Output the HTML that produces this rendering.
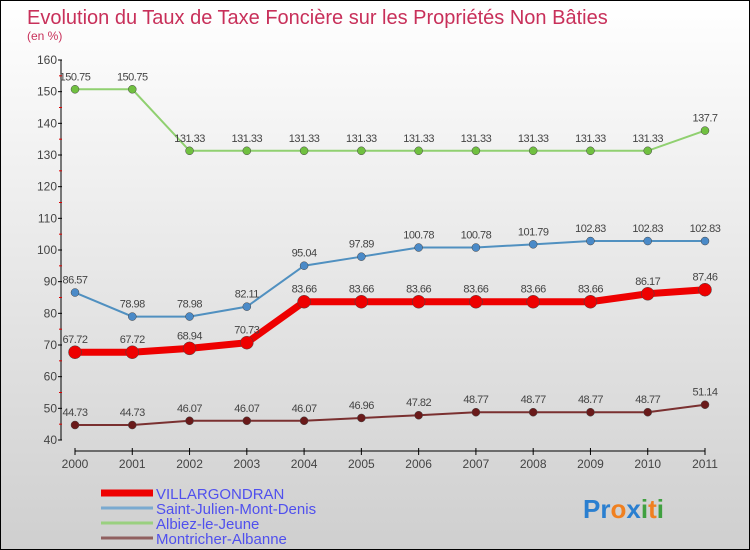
<!DOCTYPE html>
<html><head><meta charset="utf-8"><style>
html,body{margin:0;padding:0}
body{width:750px;height:550px;overflow:hidden;font-family:"Liberation Sans",sans-serif}
#wrap{position:relative;width:748px;height:548px;border:1px solid #000;background:linear-gradient(#ffffff,#cfcfcf)}
</style></head><body>
<div id="wrap">
<svg id="chart" width="748" height="548" style="position:absolute;left:0;top:0">
<text x="26" y="23" font-size="20" fill="#c8305a">Evolution du Taux de Taxe Foncière sur les Propriétés Non Bâties</text>
<text x="26" y="39" font-size="12" fill="#c8305a">(en %)</text>
<g id="axes"></g><g id="series"></g><g id="legend"></g>
<text x="582" y="517" font-size="26" font-weight="bold"><tspan fill="#2a7fd0">Pr</tspan><tspan fill="#f08020">o</tspan><tspan fill="#2a7fd0">x</tspan><tspan fill="#40a040">i</tspan><tspan fill="#f08020">t</tspan><tspan fill="#40a040">i</tspan></text>
</svg>
</div>
<script>
const years=["2000","2001","2002","2003","2004","2005","2006","2007","2008","2009","2010","2011"];
const yTicks=[40,50,60,70,80,90,100,110,120,130,140,150,160];
const villargondran=[67.72,67.72,68.94,70.73,83.66,83.66,83.66,83.66,83.66,83.66,86.17,87.46];
const saintJulien=[86.57,78.98,78.98,82.11,95.04,97.89,100.78,100.78,101.79,102.83,102.83,102.83];
const albiez=[150.75,150.75,131.33,131.33,131.33,131.33,131.33,131.33,131.33,131.33,131.33,137.7];
const montricher=[44.73,44.73,46.07,46.07,46.07,46.96,47.82,48.77,48.77,48.77,48.77,51.14];
const seriesNames=["VILLARGONDRAN","Saint-Julien-Mont-Denis","Albiez-le-Jeune","Montricher-Albanne"];
const NS="http://www.w3.org/2000/svg";
const X=i=>74+i*(630/11);
const Y=v=>439-(v-40)*(380/120);
function mk(tag,attrs,parent){const e=document.createElementNS(NS,tag);for(const k in attrs)e.setAttribute(k,attrs[k]);parent.appendChild(e);return e;}
const axes=document.getElementById('axes');
let a=mk('line',{x1:60,y1:Y(160),x2:60,y2:Y(40),stroke:'#000'},axes);


yTicks.forEach(t=>{
 const l=mk('line',{x1:57,y1:Y(t),x2:61,y2:Y(t),stroke:'#000'},axes);
 
 
 const m=mk('line',{x1:58,y1:Y(t+5),x2:61,y2:Y(t+5),stroke:'#d00'},axes);
 if(t===160)m.remove();
 const tx=mk('text',{x:56,y:Y(t)+4,'text-anchor':'end','font-size':12,fill:'#444'},axes);
 tx.textContent=t;
 
 
});
a=mk('line',{x1:X(0),y1:450,x2:X(11),y2:450,stroke:'#000'},axes);


years.forEach((yr,i)=>{
 const l=mk('line',{x1:X(i),y1:447,x2:X(i),y2:454,stroke:'#000'},axes);
 
 
 const tx=mk('text',{x:X(i),y:467,'text-anchor':'middle','font-size':12,fill:'#444'},axes);
 tx.textContent=yr;
 
 
});
const ser=document.getElementById('series');
const defs=[
 {d:montricher,c:'#7a3030',dot:'#6a1a1a',w:2,r:4,n:'montricher-albanne'},
 {d:albiez,c:'#90d070',dot:'#70c040',w:2,r:4,n:'albiez-le-jeune'},
 {d:saintJulien,c:'#5090c0',dot:'#4a8ac8',w:2,r:4,n:'saint-julien-mont-denis'},
 {d:villargondran,c:'#ee0000',dot:'#ee0000',w:7,r:6.5,n:'villargondran'}
];
defs.forEach(s=>{
 const p=mk('polyline',{points:s.d.map((v,i)=>X(i)+','+Y(v)).join(' '),fill:'none',stroke:s.c,'stroke-width':s.w},ser);
 
 
 s.d.forEach((v,i)=>{
  const c=mk('circle',{cx:X(i),cy:Y(v),r:s.r,fill:s.dot,stroke:'#444','stroke-width':0.5},ser);
  
  
  const t=mk('text',{x:X(i),y:Y(v)-9,'text-anchor':'middle','font-size':11,fill:'#444','letter-spacing':'-0.5'},ser);
  t.textContent=String(v).replace('.','.');
  
  
 });
});
const lg=document.getElementById('legend');
const lc=[['#ee0000',7],['#7aaad0',3],['#9ad080',3],['#906060',3]];
seriesNames.forEach((n,i)=>{
 const y=492+i*15;
 const l=mk('line',{x1:100,y1:y,x2:152,y2:y,stroke:lc[i][0],'stroke-width':lc[i][1]},lg);
 
 
 const t=mk('text',{x:155,y:y+6,'font-size':15,fill:'#5050ee'},lg);
 t.textContent=n;
 
 
});
</script>
</body></html>
